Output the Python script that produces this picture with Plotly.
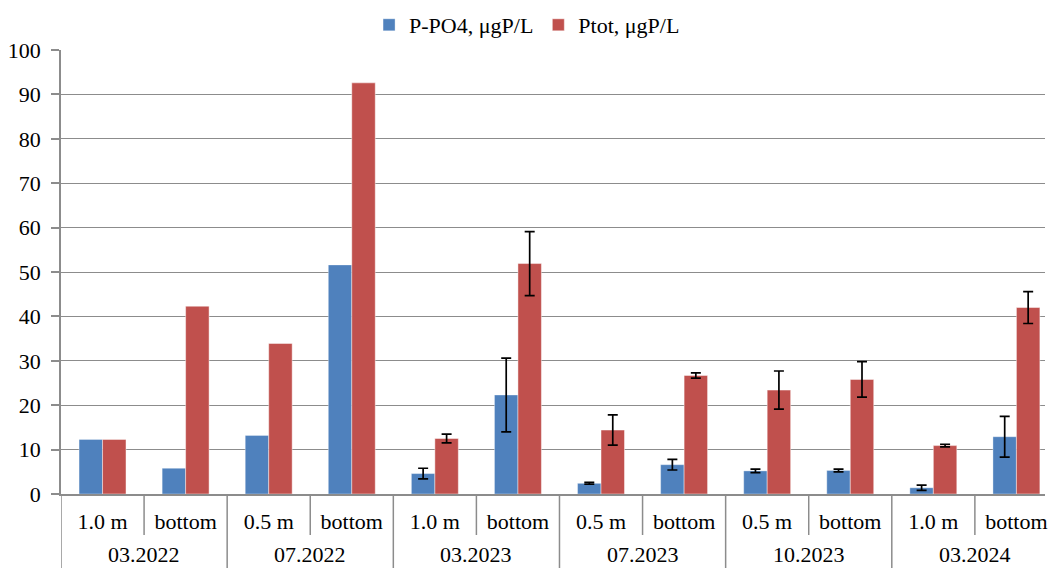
import numpy as np
import plotly.graph_objects as go

periods = ["03.2022", "03.2022", "07.2022", "07.2022", "03.2023", "03.2023",
           "07.2023", "07.2023", "10.2023", "10.2023", "03.2024", "03.2024"]
depths = ["1.0 m", "bottom", "0.5 m", "bottom", "1.0 m", "bottom",
          "0.5 m", "bottom", "0.5 m", "bottom", "1.0 m", "bottom"]
po4 = [12.3, 5.8, 13.2, 51.6, 4.6, 22.3, 2.4, 6.6, 5.2, 5.3, 1.4, 12.9]
po4_err = [None, None, None, None, 1.2, 8.3, 0.2, 1.2, 0.4, 0.3, 0.6, 4.6]
ptot = [12.3, 42.3, 33.9, 92.6, 12.5, 51.9, 14.4, 26.7, 23.4, 25.8, 10.9, 42.0]
ptot_err = [None, None, None, None, 1.0, 7.2, 3.4, 0.6, 4.3, 4.0, 0.3, 3.6]

FONT = "Times New Roman, Liberation Serif, DejaVu Serif, serif"
GRID = "#8c8c8c"
FS = 22

idx = list(range(len(depths)))

fig = go.Figure()
fig.add_trace(go.Bar(
    x=idx, y=po4, name="P-PO4, μgP/L",
    marker=dict(color="#4F81BD", line=dict(width=1, color="rgba(255,255,255,0.35)")),
    error_y=dict(type="data", array=np.array(po4_err, dtype=float), visible=True,
                 color="black", thickness=1.7, width=5),
))
fig.add_trace(go.Bar(
    x=idx, y=ptot, name="Ptot, μgP/L",
    marker=dict(color="#C0504D", line=dict(width=1, color="rgba(255,255,255,0.45)")),
    error_y=dict(type="data", array=np.array(ptot_err, dtype=float), visible=True,
                 color="black", thickness=1.7, width=5),
))

# category dividers and group labels below the axis
PLOT_H = 568 - 50 - 74
sub_len = -41 / PLOT_H
grp_len = -74 / PLOT_H
shapes = []
for b in range(len(depths) + 1):
    is_group = b == 0 or b == len(depths) or periods[b] != periods[b - 1]
    shapes.append(dict(type="line", xref="x", yref="paper",
                       x0=b - 0.5, x1=b - 0.5, y0=0,
                       y1=grp_len if is_group else sub_len,
                       line=dict(color=GRID, width=1.5)))

annotations = []
start = 0
for i in range(1, len(periods) + 1):
    if i == len(periods) or periods[i] != periods[start]:
        annotations.append(dict(x=(start + i - 1) / 2, y=(494 - 568) / PLOT_H,
                                xref="x", yref="paper", text=periods[start],
                                showarrow=False, yanchor="bottom", borderpad=0,
                                font=dict(family=FONT, size=FS, color="black")))
        start = i

fig.update_layout(
    width=1048, height=568,
    margin=dict(l=61, r=0, t=50, b=74),
    paper_bgcolor="white", plot_bgcolor="white",
    font=dict(family=FONT, size=FS, color="black"),
    barmode="group", bargap=0.435, bargroupgap=0,
    showlegend=True,
    legend=dict(orientation="h", x=(370 - 61) / 987, xanchor="left",
                y=(494 - 25) / PLOT_H, yanchor="middle",
                font=dict(family=FONT, size=FS), traceorder="normal"),
    xaxis=dict(
        range=[-0.5, 11.344], tickvals=idx, ticktext=depths,
        showline=True, linecolor=GRID, linewidth=1.5,
        ticks="", showgrid=False, zeroline=False,
        tickfont=dict(family=FONT, size=FS), ticklabelstandoff=7,
        ticklabeloverflow="allow",
    ),
    yaxis=dict(
        range=[0, 100], dtick=10, tick0=0,
        showline=True, linecolor=GRID, linewidth=1.5,
        showgrid=True, gridcolor=GRID, gridwidth=1.3,
        ticks="outside", ticklen=8, tickcolor=GRID, tickwidth=1.5,
        tickfont=dict(family=FONT, size=FS), zeroline=False,
        ticklabelstandoff=6,
    ),
    shapes=shapes, annotations=annotations,
)

fig.write_html("out.html")
